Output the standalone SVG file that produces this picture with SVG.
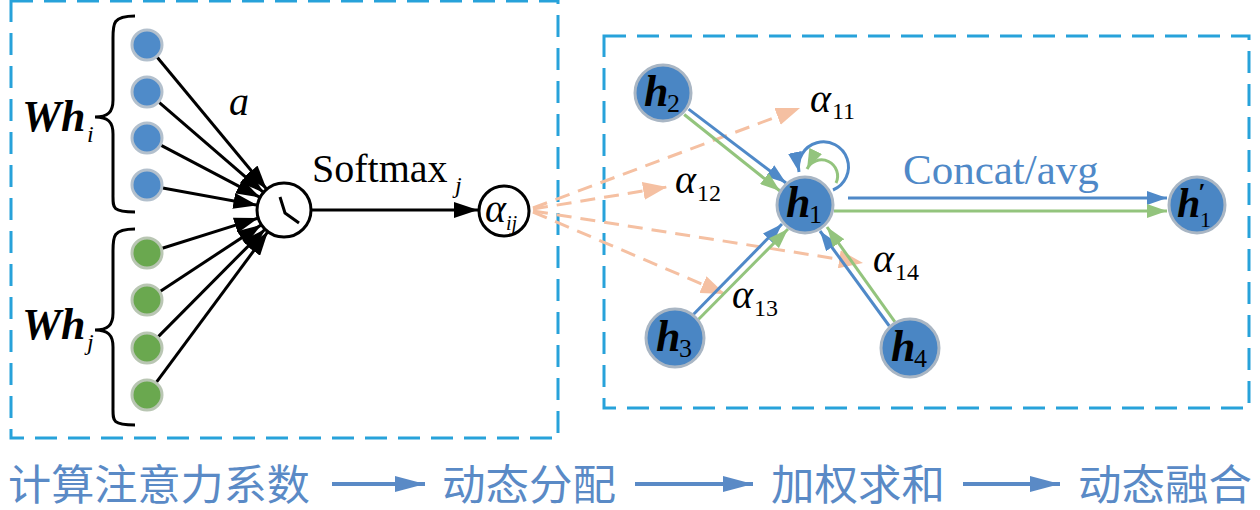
<svg xmlns="http://www.w3.org/2000/svg" width="1260" height="510" viewBox="0 0 1260 510">
<defs>
<style>
.box{fill:none;stroke:#27a2da;stroke-width:3;stroke-dasharray:22 11}
.bn{fill:#4f8bc9;stroke:#b3c0cd;stroke-width:3}
.gn{fill:#6aa84f;stroke:#b9c6b3;stroke-width:3}
.hn{fill:#4a86c4;stroke:#a9b6c4;stroke-width:3}
.blk{stroke:#000;stroke-width:3;fill:none}
.bl{stroke:#4f89c8;stroke-width:3;fill:none}
.gr{stroke:#93c47d;stroke-width:3;fill:none}
.or{stroke:#f5c0a2;stroke-width:3;fill:none;stroke-dasharray:15 9}
.serif{font-family:'Liberation Serif','Times New Roman',serif;fill:#000}
.it{font-style:italic}
.bi{font-style:italic;font-weight:bold}
.cn{font-family:'Noto Sans CJK SC',sans-serif;font-size:42px;fill:#5a8ac6}
</style>
<marker id="mk" markerUnits="userSpaceOnUse" markerWidth="26" markerHeight="16" refX="24" refY="8" orient="auto"><path d="M0,0 L24,8 L0,16 z" fill="#000"/></marker>
<marker id="mb" markerUnits="userSpaceOnUse" markerWidth="22" markerHeight="14" refX="20" refY="7" orient="auto"><path d="M0,0 L20,7 L0,14 z" fill="#4f89c8"/></marker>
<marker id="mg" markerUnits="userSpaceOnUse" markerWidth="22" markerHeight="14" refX="20" refY="7" orient="auto"><path d="M0,0 L20,7 L0,14 z" fill="#93c47d"/></marker>
<marker id="mo" markerUnits="userSpaceOnUse" markerWidth="26" markerHeight="18" refX="24" refY="9" orient="auto"><path d="M0,0 L24,9 L0,18 z" fill="#f5c0a2"/></marker>
<marker id="mf" markerUnits="userSpaceOnUse" markerWidth="32" markerHeight="16" refX="30" refY="8" orient="auto"><path d="M0,0 L30,8 L0,16 z" fill="#5a8ac6"/></marker>
</defs>
<rect width="1260" height="510" fill="#fff"/>

<g id="panel-left">
<rect class="box" x="11" y="1" width="547" height="437"/>
</g>
<g id="panel-right">
<rect class="box" x="604" y="36" width="645" height="372"/>
</g>

<g id="braces" fill="none" stroke="#000" stroke-width="3">
<path d="M135,16 C112,16 113,24 113,40 L113,100 C113,112 108,117 95,117 C108,117 113,122 113,134 L113,195 C113,208 112,212 135,212"/>
<path d="M135,229 C112,229 113,237 113,253 L113,313 C113,325 108,330 95,330 C108,330 113,335 113,347 L113,408 C113,421 112,425 135,425"/>
</g>

<g id="label-whi" class="serif"><text x="22" y="131" font-size="44" class="bi">Wh</text><text x="87" y="142" font-size="24" class="it">i</text></g>
<g id="label-whj" class="serif"><text x="22" y="339" font-size="44" class="bi">Wh</text><text x="87" y="350" font-size="24" class="it">j</text></g>

<g id="connectors">
<path class="blk" marker-end="url(#mk)" d="M157.2,57.3 L266.7,189.2"/>
<path class="blk" marker-end="url(#mk)" d="M159.1,102.4 L263.5,192.4"/>
<path class="blk" marker-end="url(#mk)" d="M161.2,145.4 L260.1,197.4"/>
<path class="blk" marker-end="url(#mk)" d="M162.7,187.9 L257.4,205.2"/>
<path class="blk" marker-end="url(#mk)" d="M162.3,248.2 L258.2,218.1"/>
<path class="blk" marker-end="url(#mk)" d="M160.4,291.2 L261.4,224.8"/>
<path class="blk" marker-end="url(#mk)" d="M158.3,336.6 L265.0,229.2"/>
<path class="blk" marker-end="url(#mk)" d="M156.5,382.1 L267.9,231.7"/>
<path class="blk" marker-end="url(#mk)" d="M311,210 L478,210"/>

<path class="or" marker-end="url(#mo)" d="M533,208 L800,108"/>
<path class="or" marker-end="url(#mo)" d="M533,209 L667,187"/>
<path class="or" marker-end="url(#mo)" d="M533,212 L725,294"/>
<path class="or" marker-end="url(#mo)" d="M533,211 L863,263"/>

<path class="bl" marker-end="url(#mb)" d="M688.6,109.1 L786,183"/>
<path class="gr" marker-end="url(#mg)" d="M684.2,114.5 L780,191"/>
<path class="bl" marker-end="url(#mb)" d="M693.6,314.2 L782,224"/>
<path class="gr" marker-end="url(#mg)" d="M698.6,319.2 L788,229"/>
<path class="bl" marker-end="url(#mb)" d="M889.3,326.0 L820,231"/>
<path class="gr" marker-end="url(#mg)" d="M894.9,321.8 L827,227"/>
<path class="bl" marker-end="url(#mb)" d="M848,198 L1167,198"/>
<path class="gr" marker-end="url(#mg)" d="M834,211 L1167,211"/>
<path class="bl" marker-end="url(#mb)" d="M833,190 A25 25 0 1 0 799,172"/>
<path class="gr" marker-end="url(#mg)" d="M836,183 A16 16 0 1 0 807,169"/>

<path stroke="#5a8ac6" stroke-width="4" fill="none" marker-end="url(#mf)" d="M332,484 L425,484"/>
<path stroke="#5a8ac6" stroke-width="4" fill="none" marker-end="url(#mf)" d="M635,484 L753,484"/>
<path stroke="#5a8ac6" stroke-width="4" fill="none" marker-end="url(#mf)" d="M963,484 L1060,484"/>
</g>

<g id="inputs-i">
<circle class="bn" cx="147" cy="45" r="15"/>
<circle class="bn" cx="147" cy="92" r="15"/>
<circle class="bn" cx="147" cy="138" r="15"/>
<circle class="bn" cx="147" cy="185" r="15"/>
</g>
<g id="inputs-j">
<circle class="gn" cx="147" cy="253" r="15"/>
<circle class="gn" cx="147" cy="300" r="15"/>
<circle class="gn" cx="147" cy="348" r="15"/>
<circle class="gn" cx="147" cy="395" r="15"/>
</g>

<g id="label-a" class="serif"><text x="229" y="115" font-size="40" class="it">a</text></g>

<g id="clock">
<circle cx="284" cy="210" r="27" fill="#fff" stroke="#000" stroke-width="3"/>
<path d="M280,197 L285,213 L299,223" fill="none" stroke="#000" stroke-width="3"/>
</g>

<g id="label-softmax" class="serif"><text x="312" y="182" font-size="40">Softmax</text><text x="455" y="193" font-size="24" class="it">j</text></g>

<g id="alpha-ij">
<circle cx="504" cy="211" r="25" fill="#fff" stroke="#000" stroke-width="3"/>
<text class="serif it" x="485" y="222" font-size="40">α</text>
<text class="serif it" x="506" y="230" font-size="20">ij</text>
</g>

<g id="labels-alpha" class="serif">
<text x="810" y="112" font-size="40" class="it">α</text><text x="832" y="119" font-size="24">11</text>
<text x="675" y="193" font-size="40" class="it">α</text><text x="697" y="201" font-size="24">12</text>
<text x="732" y="308" font-size="40" class="it">α</text><text x="754" y="316" font-size="24">13</text>
<text x="873" y="272" font-size="40" class="it">α</text><text x="895" y="280" font-size="24">14</text>
</g>

<g id="node-h2"><circle class="hn" cx="663" cy="93" r="28"/><text class="serif bi" x="644" y="106" font-size="44">h</text><text class="serif" x="667" y="112" font-size="26">2</text></g>
<g id="node-h1"><circle class="hn" cx="805" cy="205" r="28"/><text class="serif bi" x="786" y="217" font-size="44">h</text><text class="serif" x="809" y="223" font-size="26">1</text></g>
<g id="node-h3"><circle class="hn" cx="675" cy="338" r="29"/><text class="serif bi" x="656" y="351" font-size="44">h</text><text class="serif" x="679" y="357" font-size="26">3</text></g>
<g id="node-h4"><circle class="hn" cx="910" cy="348" r="29"/><text class="serif bi" x="891" y="361" font-size="44">h</text><text class="serif" x="914" y="367" font-size="26">4</text></g>
<g id="node-h1p"><circle class="hn" cx="1197" cy="205" r="28"/><text class="serif bi" x="1177" y="217" font-size="42">h</text><text class="serif bi" x="1198" y="201" font-size="26">′</text><text class="serif" x="1200" y="227" font-size="22">1</text></g>

<g id="label-concat"><text x="903" y="184" font-family="'Liberation Serif', serif" font-size="43" fill="#4f89c8">Concat/avg</text></g>

<g id="flow-labels">
<text class="cn" x="8" y="500" textLength="302" lengthAdjust="spacingAndGlyphs">计算注意力系数</text>
<text class="cn" x="442" y="500" textLength="174" lengthAdjust="spacingAndGlyphs">动态分配</text>
<text class="cn" x="771" y="500" textLength="174" lengthAdjust="spacingAndGlyphs">加权求和</text>
<text class="cn" x="1078" y="500" textLength="174" lengthAdjust="spacingAndGlyphs">动态融合</text>
</g>
</svg>
